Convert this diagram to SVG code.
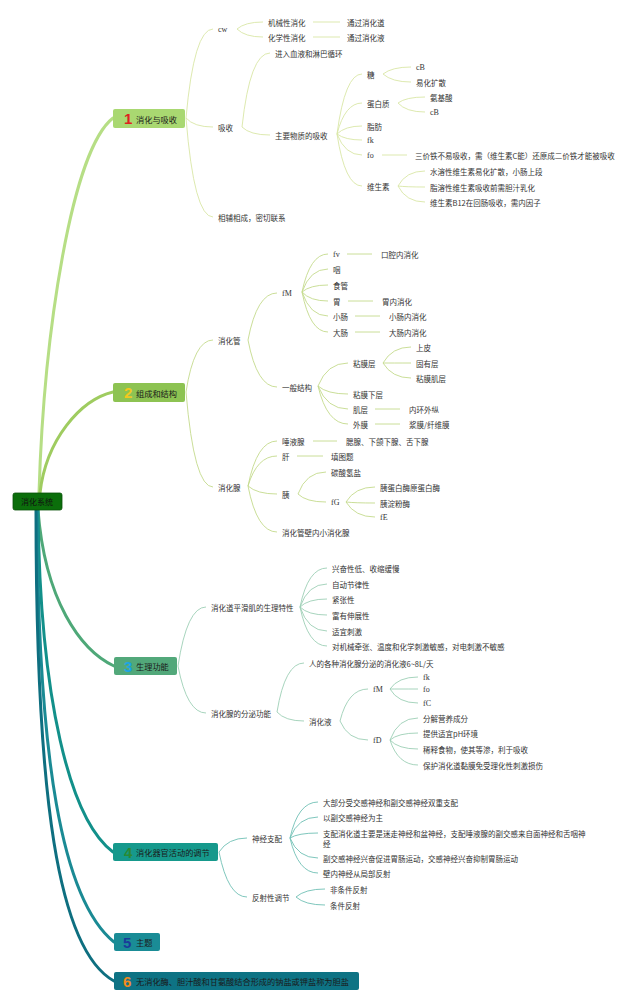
<svg xmlns="http://www.w3.org/2000/svg" width="640" height="1003" viewBox="0 0 640 1003">
<style>
text{font-family:"Noto Sans CJK SC","Liberation Sans",sans-serif;font-size:7.5px;fill:#333;dominant-baseline:central}
.s{font-family:"Liberation Serif","Noto Sans CJK SC",serif;font-size:8px}
.bt{font-size:8.2px;fill:#1a1a1a}
.num{font-family:"Liberation Sans",sans-serif;font-size:15px;font-weight:bold}
.n1{fill:#e02020}.n2{fill:#f2c81e}.n3{fill:#1ca4e4}.n4{fill:#2a8a34}.n5{fill:#1a3c9a}.n6{fill:#f08a1c}
.c1{fill:none;stroke:#d9e6a6;stroke-width:0.9}
.c2{fill:none;stroke:#c4da8c;stroke-width:0.9}
.c3{fill:none;stroke:#9dcfb5;stroke-width:0.9}
.c4{fill:none;stroke:#6fc0b4;stroke-width:0.9}
.m{fill:none;stroke-width:3;stroke-linecap:round}
</style>
<rect width="640" height="1003" fill="#fff"/>
<g id="connectors">
<path class="m" stroke="#b6de85" d="M39,493 C44,330 72,150 113,118"/>
<path class="m" stroke="#9fcc60" d="M40,493 C46,440 80,400 113,392"/>
<path class="m" stroke="#4ea878" d="M38,510 C45,600 80,650 114,666"/>
<path class="m" stroke="#12908a" d="M38,510 C40,700 70,820 113,852"/>
<path class="m" stroke="#1a8a94" d="M37,510 C38,760 62,900 114,942"/>
<path class="m" stroke="#0e6f80" d="M36,510 C36,800 58,950 114,981"/>
<g class="c1">
<path d="M186,118 Q194,29 213,29"/><path d="M186,118 Q194,127 213,127"/><path d="M186,118 Q194,217 213,217"/>
<path d="M237,29 Q245,22 263,22"/><path d="M237,29 Q245,37 263,37"/>
<path d="M313,22 H340"/><path d="M313,37 H340"/>
<path d="M242,127 Q250,53 270,53"/><path d="M242,127 Q250,135 270,135"/>
<path d="M337,134 Q345,74 362,74"/><path d="M337,134 Q345,103 362,103"/><path d="M337,134 Q345,126 362,126"/><path d="M337,134 Q345,140 362,140"/><path d="M337,134 Q345,155 362,155"/><path d="M337,134 Q345,186 362,186"/>
<path d="M383,74 Q392,67 411,67"/><path d="M383,74 Q392,82 411,82"/>
<path d="M398,103 Q406,97 425,97"/><path d="M398,103 Q406,112 425,112"/>
<path d="M382,155 H407"/>
<path d="M398,186 Q406,171 425,171"/><path d="M398,186 Q406,187 425,187"/><path d="M398,186 Q406,202 425,202"/>
</g>
<g class="c2">
<path d="M186,392 Q194,340 213,340"/><path d="M186,392 Q194,487 213,487"/>
<path d="M248,340 Q257,293 277,293"/><path d="M248,340 Q257,387 277,387"/>
<path d="M302,292 Q310,254 328,254"/><path d="M302,292 Q310,269 328,269"/><path d="M302,292 Q310,285 328,285"/><path d="M302,292 Q310,301 328,301"/><path d="M302,292 Q310,316 328,316"/><path d="M302,292 Q310,332 328,332"/>
<path d="M347,254 H372"/><path d="M348,301 H373"/><path d="M355,316 H380"/><path d="M355,332 H380"/>
<path d="M318,386 Q327,363 348,363"/><path d="M318,386 Q327,394 348,394"/><path d="M318,386 Q327,409 348,409"/><path d="M318,386 Q327,424 348,424"/>
<path d="M383,363 Q392,347 411,347"/><path d="M383,363 Q392,363 411,363"/><path d="M383,363 Q392,378 411,378"/>
<path d="M375,409 H400"/><path d="M375,424 H400"/>
<path d="M248,486 Q257,441 277,441"/><path d="M248,486 Q257,456 277,456"/><path d="M248,486 Q257,494 277,494"/><path d="M248,486 Q257,532 277,532"/>
<path d="M313,441 H337"/><path d="M297,456 H323"/>
<path d="M298,494 Q306,472 326,472"/><path d="M298,494 Q306,502 326,502"/>
<path d="M346,502 Q355,487 375,487"/><path d="M346,502 Q355,503 375,503"/><path d="M346,502 Q355,517 375,517"/>
</g>
<g class="c3">
<path d="M178,666 Q187,607 206,607"/><path d="M178,666 Q187,713 206,713"/>
<path d="M300,607 Q308,568 327,568"/><path d="M300,607 Q308,584 327,584"/><path d="M300,607 Q308,599 327,599"/><path d="M300,607 Q308,615 327,615"/><path d="M300,607 Q308,631 327,631"/><path d="M300,607 Q308,646 327,646"/>
<path d="M277,712 Q285,663 304,663"/><path d="M277,712 Q285,721 304,721"/>
<path d="M340,721 Q348,689 368,689"/><path d="M340,721 Q348,740 368,740"/>
<path d="M390,689 Q398,677 418,677"/><path d="M390,689 Q398,689 418,689"/><path d="M390,689 Q398,703 418,703"/>
<path d="M390,740 Q398,718 418,718"/><path d="M390,740 Q398,733 418,733"/><path d="M390,740 Q398,749 418,749"/><path d="M390,740 Q398,765 418,765"/>
</g>
<g class="c4">
<path d="M219,852 Q228,838 247,838"/><path d="M219,852 Q228,897 247,897"/>
<path d="M290,838 Q298,802 318,802"/><path d="M290,838 Q298,817 318,817"/><path d="M290,838 Q298,833 318,833"/><path d="M290,838 Q298,858 318,858"/><path d="M290,838 Q298,873 318,873"/>
<path d="M296,897 Q305,889 325,889"/><path d="M296,897 Q305,905 325,905"/>
</g>
</g>
<g id="root">
<rect x="13" y="493" width="49" height="17" rx="2" fill="#0b6e0b" stroke="#075207" stroke-width="0.8"/>
<text x="21" y="501.5" style="font-size:8px;fill:#111">消化系统</text>
</g>
<g id="b1">
<rect x="113" y="109" width="72" height="19" rx="2" fill="#a9d871"/>
<text class="num n1" x="124" y="118.5">1</text>
<text class="bt" x="136" y="118.5">消化与吸收</text>
</g>
<g id="b2">
<rect x="113" y="383" width="72" height="19" rx="2" fill="#8dc352"/>
<text class="num n2" x="124" y="392.5">2</text>
<text class="bt" x="136" y="392.5">组成和结构</text>
</g>
<g id="b3">
<rect x="114" y="657" width="63" height="18" rx="2" fill="#52a87a"/>
<text class="num n3" x="124" y="666">3</text>
<text class="bt" x="136" y="666">生理功能</text>
</g>
<g id="b4">
<rect x="113" y="843" width="105" height="18" rx="2" fill="#16998c"/>
<text class="num n4" x="124" y="852">4</text>
<text class="bt" x="136" y="852">消化器官活动的调节</text>
</g>
<g id="b5">
<rect x="114" y="933" width="46" height="18" rx="2" fill="#1a8c96"/>
<text class="num n5" x="123" y="942">5</text>
<text class="bt" x="136" y="942">主题</text>
</g>
<g id="b6">
<rect x="114" y="972" width="245" height="18" rx="2" fill="#0e7384"/>
<text class="num n6" x="123" y="981">6</text>
<text class="bt" x="136" y="981">无消化酶、胆汁酸和甘氨酸结合形成的钠盐或钾盐称为胆盐</text>
</g>
<g id="s1">
<text class="s" x="218" y="29">cw</text>
<text x="268" y="22">机械性消化</text>
<text x="268" y="37">化学性消化</text>
<text x="347" y="22">通过消化道</text>
<text x="347" y="37">通过消化液</text>
<text x="275" y="53">进入血液和淋巴循环</text>
<text x="218" y="127">吸收</text>
<text x="275" y="135">主要物质的吸收</text>
<text x="218" y="217">相辅相成，密切联系</text>
<text x="367" y="74">糖</text>
<text x="367" y="103">蛋白质</text>
<text x="367" y="126">脂肪</text>
<text class="s" x="367" y="140">fk</text>
<text class="s" x="367" y="155">fo</text>
<text x="367" y="186">维生素</text>
<text class="s" x="416" y="67">cB</text>
<text x="416" y="82">易化扩散</text>
<text x="430" y="97">氨基酸</text>
<text class="s" x="430" y="112">cB</text>
<text x="415" y="155">三价铁不易吸收，需（维生素C能）还原成二价铁才能被吸收</text>
<text x="430" y="171">水溶性维生素易化扩散，小肠上段</text>
<text x="430" y="187">脂溶性维生素吸收前需胆汁乳化</text>
<text x="430" y="202">维生素B12在回肠吸收，需内因子</text>
</g>
<g id="s2">
<text x="218" y="340">消化管</text>
<text x="218" y="487">消化腺</text>
<text class="s" x="282" y="293">fM</text>
<text x="282" y="387">一般结构</text>
<text class="s" x="333" y="254">fv</text>
<text x="333" y="269">咽</text>
<text x="333" y="285">食管</text>
<text x="333" y="301">胃</text>
<text x="333" y="316">小肠</text>
<text x="333" y="332">大肠</text>
<text x="381" y="254">口腔内消化</text>
<text x="382" y="301">胃内消化</text>
<text x="389" y="316">小肠内消化</text>
<text x="389" y="332">大肠内消化</text>
<text x="353" y="363">粘膜层</text>
<text x="353" y="394">粘膜下层</text>
<text x="353" y="409">肌层</text>
<text x="353" y="424">外膜</text>
<text x="416" y="347">上皮</text>
<text x="416" y="363">固有层</text>
<text x="416" y="378">粘膜肌层</text>
<text x="409" y="409">内环外纵</text>
<text x="409" y="424">浆膜/纤维膜</text>
<text x="282" y="441">唾液腺</text>
<text x="282" y="456">肝</text>
<text x="282" y="494">胰</text>
<text x="282" y="532">消化管壁内小消化腺</text>
<text x="346" y="441">腮腺、下颌下腺、舌下腺</text>
<text x="331" y="456">填图题</text>
<text x="331" y="472">碳酸氢盐</text>
<text class="s" x="331" y="502">fG</text>
<text x="380" y="487">胰蛋白酶原蛋白酶</text>
<text x="380" y="503">胰淀粉酶</text>
<text class="s" x="380" y="517">fE</text>
</g>
<g id="s3">
<text x="211" y="607">消化道平滑肌的生理特性</text>
<text x="211" y="713">消化腺的分泌功能</text>
<text x="332" y="568">兴奋性低、收缩缓慢</text>
<text x="332" y="584">自动节律性</text>
<text x="332" y="599">紧张性</text>
<text x="332" y="615">富有伸展性</text>
<text x="332" y="631">适宜刺激</text>
<text x="332" y="646">对机械牵张、温度和化学刺激敏感，对电刺激不敏感</text>
<text x="309" y="663">人的各种消化腺分泌的消化液6~8L/天</text>
<text x="309" y="721">消化液</text>
<text class="s" x="373" y="689">fM</text>
<text class="s" x="373" y="740">fD</text>
<text class="s" x="423" y="677">fk</text>
<text class="s" x="423" y="689">fo</text>
<text class="s" x="423" y="703">fC</text>
<text x="423" y="718">分解营养成分</text>
<text x="423" y="733">提供适宜pH环境</text>
<text x="423" y="749">稀释食物，使其等渗，利于吸收</text>
<text x="423" y="765">保护消化道黏膜免受理化性刺激损伤</text>
</g>
<g id="s4">
<text x="252" y="838">神经支配</text>
<text x="252" y="897">反射性调节</text>
<text x="323" y="802">大部分受交感神经和副交感神经双重支配</text>
<text x="323" y="817">以副交感神经为主</text>
<text x="323" y="833">支配消化道主要是迷走神经和盆神经，支配唾液腺的副交感来自面神经和舌咽神</text>
<text x="323" y="843">经</text>
<text x="323" y="858">副交感神经兴奋促进胃肠运动，交感神经兴奋抑制胃肠运动</text>
<text x="323" y="873">壁内神经从局部反射</text>
<text x="330" y="889">非条件反射</text>
<text x="330" y="905">条件反射</text>
</g>
</svg>
